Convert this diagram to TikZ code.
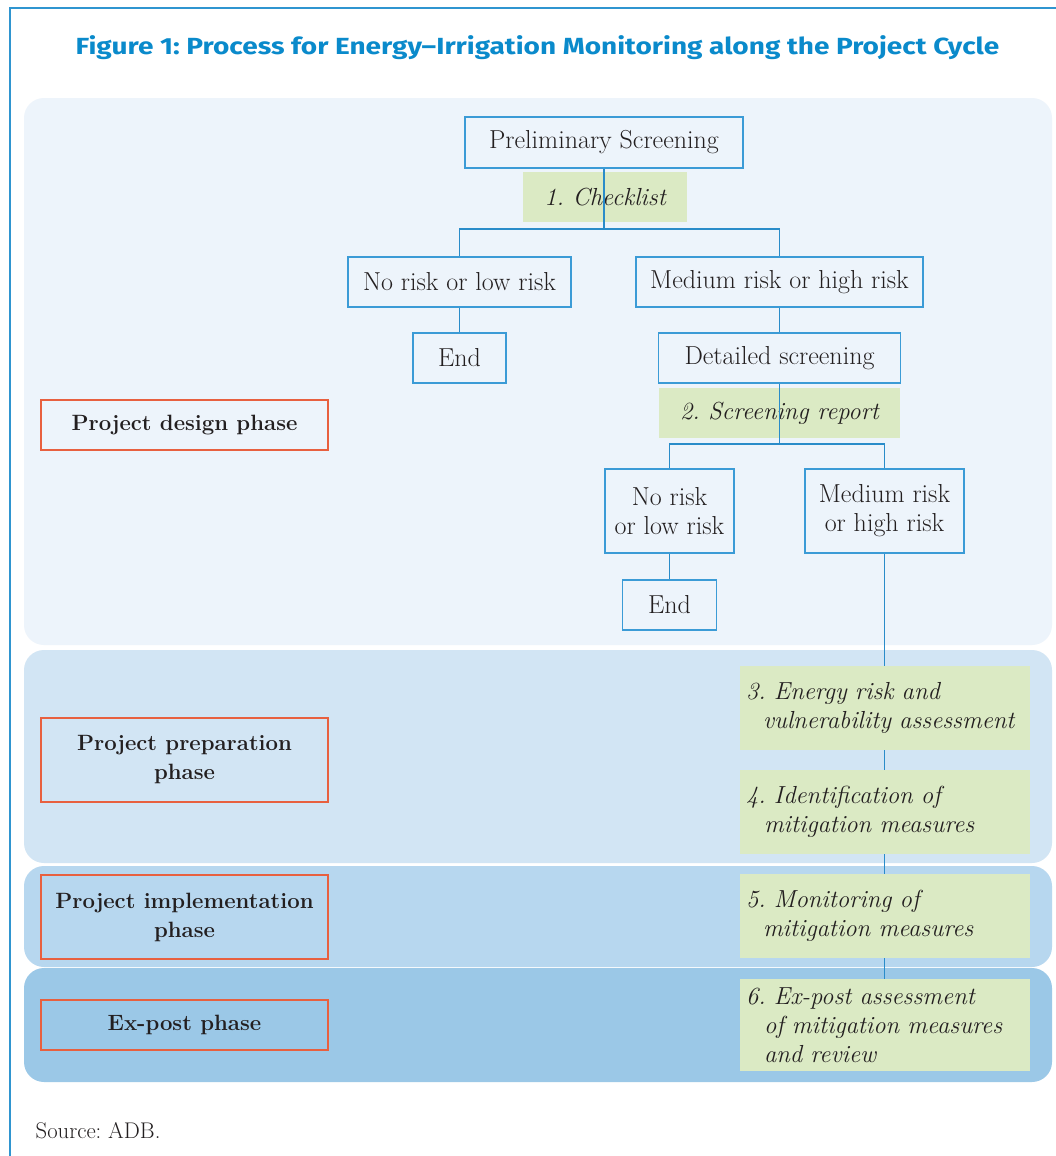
\documentclass[tikz,border=0pt]{standalone}
\usepackage{fontspec}
\newfontfamily\titlefont{Fira Sans}[FakeStretch=1.2]
\newdimen\pxu
\pxu=0.75pt
\frenchspacing
\definecolor{frameblue}{HTML}{2F95D0}
\definecolor{titleblue}{HTML}{0A8ACB}
\definecolor{bandA}{HTML}{EDF4FB}
\definecolor{bandB}{HTML}{D2E5F4}
\definecolor{bandC}{HTML}{B7D7EF}
\definecolor{bandD}{HTML}{9BC8E7}
\definecolor{greenf}{HTML}{DBEAC4}
\definecolor{boxblue}{HTML}{3B9BD6}
\definecolor{lineblue}{HTML}{2A8CC9}
\definecolor{orangeb}{HTML}{E8603F}
\definecolor{txt}{HTML}{231F20}
\newcommand{\bodyfnt}{\fontsize{19.5}{21.8}\selectfont}
\newcommand{\itfnt}{\fontsize{18.5}{21.6}\selectfont\itshape}
\newcommand{\phfnt}{\fontsize{16.6}{21.8}\selectfont\bfseries}
\tikzset{
  bluebox/.style={draw=boxblue, line width=1.4\pxu, align=center, inner sep=0pt, font=\bodyfnt, text=txt},
  greenlabel/.style={fill=greenf, inner sep=0pt, font=\itfnt, text=txt},
  greenstep/.style={fill=greenf, inner xsep=6\pxu, inner ysep=0pt, text width=278\pxu, minimum height=84\pxu, align=left, font=\itfnt, text=txt},
  phasebox/.style={draw=orangeb, line width=1.4\pxu, minimum width=287\pxu, inner sep=0pt, align=center, font=\phfnt, text=txt},
  conn/.style={draw=lineblue, line width=1.6\pxu},
  band/.style={rounded corners=20\pxu},
}
\begin{document}
\begin{tikzpicture}[x=\pxu, y=-\pxu]
\useasboundingbox (0,0) rectangle (1056,1156);
\fill[white] (0,0) rectangle (1056,1156);
% frame
\draw[frameblue, line width=1.5\pxu] (10,1156) -- (10,8) -- (1056,8);
% title
\node[anchor=base, text=titleblue, font=\titlefont\bfseries\fontsize{17.5}{20}\selectfont] (title) at (537.5,55) {Figure 1: Process for Energy–Irrigation Monitoring along the Project Cycle};
% bands
\fill[bandA, band] (24,98) rectangle (1052,645);
\fill[bandB, band] (24,650) rectangle (1052,863);
\fill[bandC, band] (24,866) rectangle (1052,967);
\fill[bandD, band] (24,968) rectangle (1052,1082);
% phase boxes
\node[phasebox, minimum height=50\pxu] (pd) at (184.5,425) {Project design phase};
\node[phasebox, minimum height=84\pxu] (pp) at (184.5,760) {Project preparation\\phase};
\node[phasebox, minimum height=84\pxu] (pi) at (184.5,917) {Project implementation\\phase};
\node[phasebox, minimum height=50\pxu] (pe) at (184.5,1025) {Ex-post phase};
% flow nodes
\node[bluebox, minimum width=278\pxu, minimum height=51\pxu] (ps) at (604,142.5) {Preliminary Screening};
\node[greenlabel, minimum width=164\pxu, minimum height=50\pxu] (chk) at (605,197) {1.\ Checklist};
\node[bluebox, minimum width=223\pxu, minimum height=50\pxu] (nlr1) at (459.5,282) {No risk or low risk};
\node[bluebox, minimum width=287\pxu, minimum height=50\pxu] (mhr1) at (779.5,282) {Medium risk or high risk};
\node[bluebox, minimum width=93\pxu, minimum height=50\pxu] (end1) at (459.5,358) {End};
\node[bluebox, minimum width=242\pxu, minimum height=50\pxu] (ds) at (779.5,358) {Detailed screening};
\node[greenlabel, minimum width=241\pxu, minimum height=50\pxu] (rep) at (779.5,413) {2.\ Screening report};
\node[bluebox, minimum width=129\pxu, minimum height=84\pxu] (nlr2) at (669.5,511) {No risk\\or low risk};
\node[bluebox, minimum width=159\pxu, minimum height=84\pxu] (mhr2) at (884.5,511) {Medium risk\\or high risk};
\node[bluebox, minimum width=94\pxu, minimum height=50\pxu] (end2) at (669.5,605) {End};
\node[greenstep] (g3) at (885,708) {3.\ Energy risk and\\\hspace*{17\pxu}vulnerability assessment};
\node[greenstep] (g4) at (885,812) {4.\ Identification of\\\hspace*{18\pxu}mitigation measures};
\node[greenstep] (g5) at (885,916) {5.\ Monitoring of\\\hspace*{17\pxu}mitigation measures};
\node[greenstep, minimum height=92\pxu] (g6) at (885,1025) {6.\ Ex-post assessment\\\hspace*{18\pxu}of mitigation measures\\\hspace*{18\pxu}and review};
% connectors
\coordinate (j1) at (604,229);
\coordinate (j2) at (779.5,444);
\draw[conn] (ps.south) -- (j1);
\draw[conn] (nlr1.north) |- (j1) -| (mhr1.north);
\draw[conn] (nlr1.south) -- (end1.north);
\draw[conn] (mhr1.south) -- (ds.north);
\draw[conn] (ds.south) -- (j2);
\draw[conn] (nlr2.north) |- (j2) -| (mhr2.north);
\draw[conn] (nlr2.south) -- (end2.north);
\draw[conn] (mhr2.south) -- (mhr2.south |- g3.north);
\draw[conn] (g3.south -| mhr2.south) -- (g4.north -| mhr2.south);
\draw[conn] (g4.south -| mhr2.south) -- (g5.north -| mhr2.south);
\draw[conn] (g5.south -| mhr2.south) -- (g6.north -| mhr2.south);
% source
\node[anchor=base west, text=txt, font=\fontsize{17}{20}\selectfont] (src) at (31,1138) {Source: ADB.};
\end{tikzpicture}
\end{document}
